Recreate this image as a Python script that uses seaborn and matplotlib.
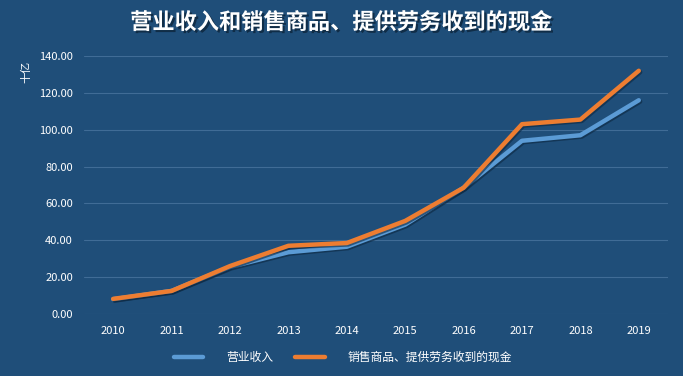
import pandas as pd
import seaborn as sns
import matplotlib.pyplot as plt
import matplotlib.patheffects as pe

# data (unit: 十亿)
years = ["2010", "2011", "2012", "2013", "2014",
         "2015", "2016", "2017", "2018", "2019"]
revenue = [8.0, 12.5, 25.5, 33.5, 36.5, 48.5, 68.5, 94.0, 97.0, 116.0]
cash_received = [8.2, 12.5, 26.0, 37.0, 38.5, 50.5, 68.5, 103.0, 105.5, 132.0]
series_names = ["营业收入", "销售商品、提供劳务收到的现金"]
y_ticks = [0, 20, 40, 60, 80, 100, 120, 140]

BG = "#1f4e79"
GRID = "#406c96"
TEXT = "#ffffff"

sns.set_theme(style="dark")
plt.rcParams["font.family"] = ["Noto Sans CJK SC", "DejaVu Sans"]

df = pd.DataFrame({
    "year": years * 2,
    "value": revenue + cash_received,
    "series": [series_names[0]] * len(years) + [series_names[1]] * len(years),
})

fig = plt.figure(figsize=(6.83, 3.76), dpi=100, facecolor=BG)
ax = fig.add_axes([0.123, 0.165, 0.855, 0.686])
ax.set_facecolor(BG)

shadow = [pe.SimpleLineShadow(offset=(1, -1), shadow_color="#0c2740", alpha=0.6),
          pe.Normal()]
sns.lineplot(data=df, x="year", y="value", hue="series", ax=ax,
             palette=["#5b9bd5", "#ed7d31"], linewidth=3.2, sort=False,
             legend=False)
for line in ax.lines:
    line.set_path_effects(shadow)
    line.set_solid_capstyle("round")

ax.set_xlim(-0.5, len(years) - 0.5)
ax.set_ylim(0, 140)
ax.set_yticks(y_ticks)
ax.set_yticklabels(["%.2f" % v for v in y_ticks])
ax.grid(axis="y", color=GRID, linewidth=0.8)
ax.grid(axis="x", visible=False)
for s in ax.spines.values():
    s.set_visible(False)
ax.tick_params(colors=TEXT, labelsize=8, length=0, pad=8)
ax.tick_params(axis="x", pad=9)
ax.set_xlabel("")
ax.set_ylabel("")

fig.text(0.038, 0.81, "十亿", rotation=90, color=TEXT, fontsize=8,
         ha="center", va="center")

title = fig.text(0.5, 0.94, "营业收入和销售商品、提供劳务收到的现金",
                 color=TEXT, fontsize=16, fontweight="bold",
                 ha="center", va="center")
title.set_path_effects([pe.withSimplePatchShadow(offset=(1.5, -1.5),
                                                 shadow_rgbFace="#0a1f33",
                                                 alpha=0.7)])

handles = [plt.Line2D([], [], color=c, linewidth=3.2, solid_capstyle="round")
           for c in ["#5b9bd5", "#ed7d31"]]
leg = fig.legend(handles, series_names, loc="center",
                 bbox_to_anchor=(0.502, 0.05), ncol=2, frameon=False,
                 fontsize=8.5, handlelength=2.5, columnspacing=1.9,
                 handletextpad=1.9)
for t in leg.get_texts():
    t.set_color(TEXT)

fig.savefig("out.png", dpi=100, facecolor=BG)
